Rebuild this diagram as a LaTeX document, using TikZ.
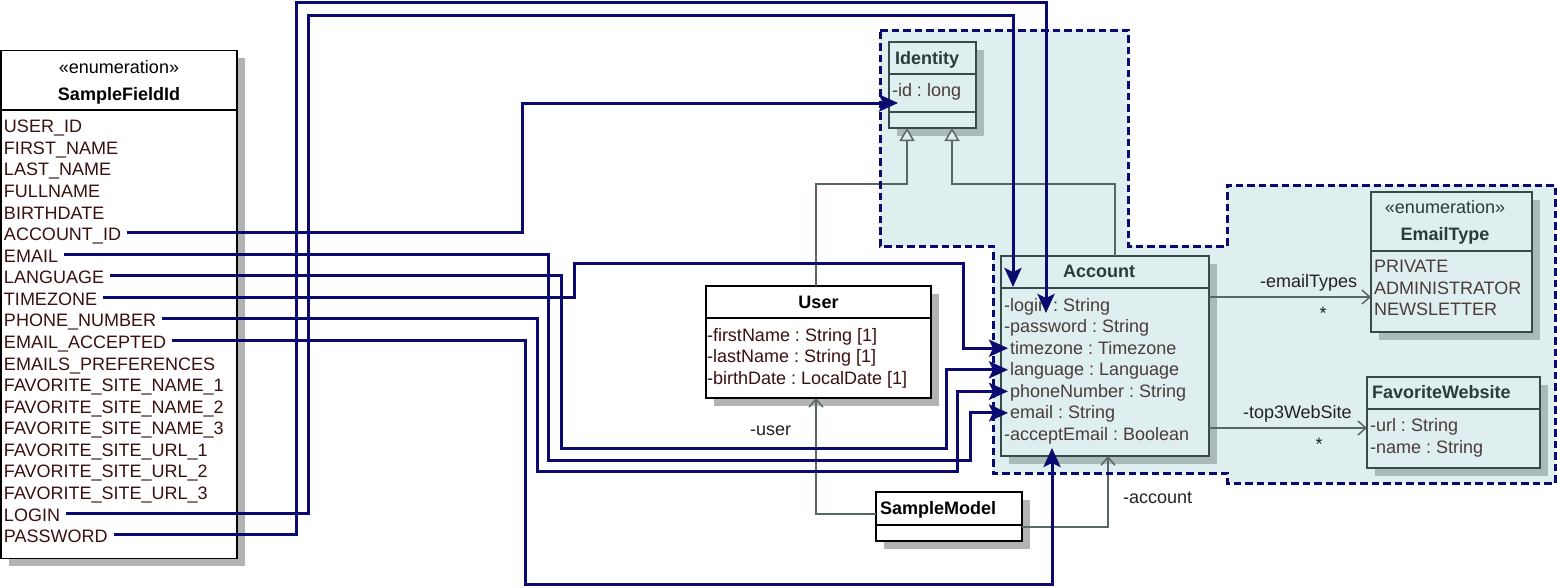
\documentclass[tikz,border=0pt]{standalone}
\usepackage{fontspec}
\setmainfont{Liberation Sans}
\usetikzlibrary{arrows.meta,shadows}
\frenchspacing
\definecolor{pkgfill}{HTML}{DFEEEF}
\definecolor{wirecol}{HTML}{0A0A70}
\definecolor{clsline}{HTML}{3A4A4A}
\definecolor{shout}{HTML}{B3B3B3}
\definecolor{shin}{HTML}{ABB9B9}
\definecolor{ftxt}{HTML}{3A1010}
\definecolor{pftxt}{HTML}{4A3C3C}
\definecolor{phtxt}{HTML}{2C3A3A}
\definecolor{lgray}{HTML}{5A6666}
\definecolor{lbl}{HTML}{222222}
\begin{document}
\begin{tikzpicture}[x=1pt,y=-1pt,
  every node/.style={inner sep=0pt, outer sep=0pt},
  txt/.style={anchor=base west, font=\fontsize{18}{21.6}\selectfont\frenchspacing},
  ctxt/.style={anchor=base, font=\fontsize{18}{21.6}\selectfont\frenchspacing},
  btxt/.style={anchor=base west, font=\fontsize{18}{21.6}\selectfont\bfseries},
  cbtxt/.style={anchor=base, font=\fontsize{18}{21.6}\selectfont\bfseries},
  outbox/.style={draw=black, line width=1.6pt, fill=white, anchor=north west,
    drop shadow={shadow xshift=7.5pt, shadow yshift=-7.5pt, fill=shout, opacity=1}},
  inbox/.style={draw=clsline, line width=1.6pt, fill=pkgfill, anchor=north west,
    drop shadow={shadow xshift=7.5pt, shadow yshift=-7.5pt, fill=shin, opacity=1}},
  outdiv/.style={draw=black, line width=1.6pt},
  indiv/.style={draw=clsline, line width=1.6pt},
  wire/.style={draw=wirecol, line width=3pt, -{Stealth[length=19pt,width=17pt,inset=4pt]}},
  assoc/.style={draw=lgray, line width=1.5pt},
  inh/.style={assoc, -{Triangle[length=13pt,width=15pt,fill=pkgfill]}},
  nav/.style={assoc, -{Straight Barb[length=8pt,width=14pt]}},
  pkgborder/.style={draw=wirecol, line width=3pt, dash pattern=on 7.5pt off 4pt}
]
\useasboundingbox (0,0) rectangle (1557,587);
\fill[white] (0,0) rectangle (1557,587);

% package background
\fill[pkgfill] (880,30) -- (1128,30) -- (1128,246) -- (1227,246) -- (1227,185) -- (1555,185) -- (1555,483) -- (1227,483) -- (1227,473) -- (993,473) -- (993,246) -- (880,246) -- cycle;

% ---------- SampleFieldId ----------
\node[outbox, minimum width=236, minimum height=508] (boxEnum) at (1,50.5) {};
\draw[outdiv] (boxEnum.west |- 0,110) -- (boxEnum.east |- 0,110);
\node[ctxt] (enumStereo) at (119,73) {«enumeration»};
\node[cbtxt] (enumName) at (119,100) {SampleFieldId};
\foreach \n/\t [count=\i from 0] in {USERID/USER\_ID, FIRSTNAME/FIRST\_NAME, LASTNAME/LAST\_NAME, FULLNAME/FULLNAME, BIRTHDATE/BIRTHDATE, ACCOUNTID/ACCOUNT\_ID, EMAIL/EMAIL, LANGUAGE/LANGUAGE, TIMEZONE/TIMEZONE, PHONENUMBER/PHONE\_NUMBER, EMAILACCEPTED/EMAIL\_ACCEPTED, EMAILSPREF/EMAILS\_PREFERENCES, FSNA/FAVORITE\_SITE\_NAME\_1, FSNB/FAVORITE\_SITE\_NAME\_2, FSNC/FAVORITE\_SITE\_NAME\_3, FSUA/FAVORITE\_SITE\_URL\_1, FSUB/FAVORITE\_SITE\_URL\_2, FSUC/FAVORITE\_SITE\_URL\_3, LOGIN/LOGIN, PASSWORD/PASSWORD}
  \node[txt, text=ftxt] (e\n) at (4,{132.7+\i*21.58}) {\t};

% ---------- Identity ----------
\node[inbox, minimum width=87, minimum height=86] (boxIdentity) at (889,42) {};
\draw[indiv] (boxIdentity.west |- 0,74) -- (boxIdentity.east |- 0,74);
\draw[indiv] (boxIdentity.west |- 0,112) -- (boxIdentity.east |- 0,112);
\node[btxt, text=phtxt] (idName) at (895,64) {Identity};
\node[txt, text=pftxt] (idId) at (892,96) {-id : long};

% ---------- User ----------
\node[outbox, minimum width=225, minimum height=112] (boxUser) at (706,286) {};
\draw[outdiv] (boxUser.west |- 0,318) -- (boxUser.east |- 0,318);
\node[cbtxt] (uName) at (818.5,308) {User};
\node[txt, text=ftxt] (uFirst) at (707,341) {-firstName : String [1]};
\node[txt, text=ftxt] (uLast) at (707,362.6) {-lastName : String [1]};
\node[txt, text=ftxt] (uBirth) at (707,384.2) {-birthDate : LocalDate [1]};

% ---------- Account ----------
\node[inbox, minimum width=208, minimum height=200] (boxAccount) at (1001,256) {};
\draw[indiv] (boxAccount.west |- 0,288) -- (boxAccount.east |- 0,288);
\node[cbtxt, text=phtxt] (aName) at (1099,277.5) {Account};
\node[txt, text=pftxt] (aLogin) at (1004,311) {-login : String};
\node[txt, text=pftxt] (aPw) at (1004,332.6) {-password : String};
\node[txt, text=pftxt] (aTz) at (1010,354.2) {timezone : Timezone};
\node[txt, text=pftxt] (aLang) at (1010,375.8) {language : Language};
\node[txt, text=pftxt] (aPh) at (1010,397.3) {phoneNumber : String};
\node[txt, text=pftxt] (aEm) at (1010,418.9) {email : String};
\node[txt, text=pftxt] (aAcc) at (1004,440.5) {-acceptEmail : Boolean};

% ---------- EmailType ----------
\node[inbox, minimum width=161, minimum height=140] (boxEmailType) at (1371,192) {};
\draw[indiv] (boxEmailType.west |- 0,251) -- (boxEmailType.east |- 0,251);
\node[ctxt, text=phtxt] (etStereo) at (1445,213) {«enumeration»};
\node[cbtxt, text=phtxt] (etName) at (1445,240) {EmailType};
\node[txt, text=pftxt] (etPriv) at (1374,272.7) {PRIVATE};
\node[txt, text=pftxt] (etAdm) at (1374,294.3) {ADMINISTRATOR};
\node[txt, text=pftxt] (etNews) at (1374,315.9) {NEWSLETTER};

% ---------- FavoriteWebsite ----------
\node[inbox, minimum width=173, minimum height=91] (boxFav) at (1367,377) {};
\draw[indiv] (boxFav.west |- 0,409) -- (boxFav.east |- 0,409);
\node[btxt, text=phtxt] (fwName) at (1372,398.5) {FavoriteWebsite};
\node[txt, text=pftxt] (fwUrl) at (1370,431.7) {-url : String};
\node[txt, text=pftxt] (fwName2) at (1370,453.3) {-name : String};

% ---------- SampleModel ----------
\node[outbox, minimum width=146, minimum height=49] (boxSM) at (876,492) {};
\draw[outdiv] (boxSM.west |- 0,525) -- (boxSM.east |- 0,525);
\node[btxt] (smName) at (880,514) {SampleModel};

% ---------- gray relations ----------
\draw[inh] (816,0 |- boxUser.north) |- (907,184) -- (907,0 |- boxIdentity.south);
\draw[inh] (1115,0 |- boxAccount.north) |- (952,184) -- (952,0 |- boxIdentity.south);
\draw[nav] (boxAccount.east |- 0,297) -- (boxEmailType.west |- 0,297);
\draw[nav] (boxAccount.east |- 0,428) -- (boxFav.west |- 0,428);
\draw[nav] (boxSM.west |- 0,514) -| (816,0 |- boxUser.south);
\draw[nav] (boxSM.east |- 0,527) -| (1108,0 |- boxAccount.south);

\node[txt, text=lbl] (lEmailTypes) at (1260,287) {-emailTypes};
\node[txt, text=lbl] (lStarA) at (1319.5,319) {*};
\node[txt, text=lbl] (lTop3) at (1243,418) {-top3WebSite};
\node[txt, text=lbl] (lStarB) at (1315.5,450) {*};
\node[txt, text=lbl] (lUser) at (750,435) {-user};
\node[txt, text=lbl] (lAccount) at (1123,503) {-account};

% package border
\draw[pkgborder] (880,30) -- (1128,30) -- (1128,246) -- (1227,246) -- (1227,185) -- (1555,185) -- (1555,483) -- (1227,483) -- (1227,473) -- (993,473) -- (993,246) -- (880,246) -- cycle;

% ---------- wire targets ----------
\coordinate (tId) at ([shift={(9,61)}]boxIdentity.north west);
\coordinate (tLogin) at ([shift={(12,31)}]boxAccount.north west);
\coordinate (tPw) at ([shift={(42,2)}]aLogin.base west);
\coordinate (tTz) at ([shift={(-2,-6)}]aTz.base west);
\coordinate (tLang) at ([shift={(-2,-6)}]aLang.base west);
\coordinate (tPh) at ([shift={(-2,-6)}]aPh.base west);
\coordinate (tEm) at ([shift={(-2,-6)}]aEm.base west);
\coordinate (tAcc) at ([shift={(51,-8)}]boxAccount.south west);

% ---------- wires ----------
\draw[wire] ([shift={(6,-8)}]eACCOUNTID.base east) -| (522,0 |- tId) -- (tId);
\draw[wire] ([shift={(6,-8)}]eEMAIL.base east) -| (548,460) -| (970,0 |- tEm) -- (tEm);
\draw[wire] ([shift={(6,-8)}]eLANGUAGE.base east) -| (561,448) -| (946,0 |- tLang) -- (tLang);
\draw[wire] ([shift={(6,-8)}]eTIMEZONE.base east) -| (574,263) -| (963,0 |- tTz) -- (tTz);
\draw[wire] ([shift={(6,-8)}]ePHONENUMBER.base east) -| (537,471) -| (957,0 |- tPh) -- (tPh);
\draw[wire] ([shift={(6,-8)}]eEMAILACCEPTED.base east) -| (525,584) -| (tAcc);
\draw[wire] ([shift={(6,-8)}]eLOGIN.base east) -| (308,15) -| (tLogin);
\draw[wire] ([shift={(6,-8)}]ePASSWORD.base east) -| (296,2) -| (tPw);
\end{tikzpicture}
\end{document}
